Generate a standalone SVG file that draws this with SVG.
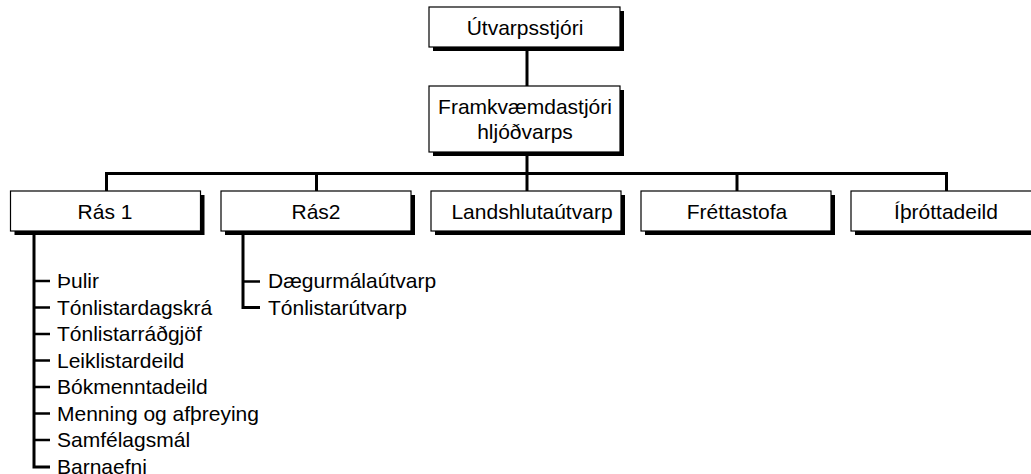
<svg xmlns="http://www.w3.org/2000/svg" width="1031" height="474" viewBox="0 0 1031 474">
<style>
  .box { fill: #fff; stroke: #000; stroke-width: 1.2; }
  .shadow { fill: #000; }
  .t { font-family: "Liberation Sans", Arial, sans-serif; font-size: 21px; fill: #000; }
  .c { text-anchor: middle; }
  .line { stroke: #000; stroke-width: 3; fill: none; stroke-linecap: butt; stroke-linejoin: miter; }
  .tick { stroke: #000; stroke-width: 2.5; fill: none; }
</style>
<rect width="1031" height="474" fill="#fff"/>
<g id="connectors">
  <line class="line" x1="527" y1="47" x2="527" y2="86"/>
  <line class="line" x1="527" y1="152" x2="527" y2="191"/>
  <polyline class="line" points="106.5,191 106.5,173.5 946.5,173.5 946.5,191"/>
  <line class="line" x1="316.5" y1="173.5" x2="316.5" y2="191"/>
  <line class="line" x1="737" y1="173.5" x2="737" y2="191"/>
  <polyline class="line" points="34,231 34,467 50,467"/>
  <line class="tick" x1="34" y1="281" x2="50" y2="281"/>
  <line class="tick" x1="34" y1="307.5" x2="50" y2="307.5"/>
  <line class="tick" x1="34" y1="334" x2="50" y2="334"/>
  <line class="tick" x1="34" y1="360.5" x2="50" y2="360.5"/>
  <line class="tick" x1="34" y1="387" x2="50" y2="387"/>
  <line class="tick" x1="34" y1="413.5" x2="50" y2="413.5"/>
  <line class="tick" x1="34" y1="440" x2="50" y2="440"/>
  <polyline class="line" points="243,231 243,307.5 260,307.5"/>
  <line class="tick" x1="243" y1="281.5" x2="260" y2="281.5"/>
</g>
<g id="utvarpsstjori">
  <rect class="shadow" x="433" y="11" width="191" height="40"/>
  <rect class="box" x="429" y="7" width="191" height="40"/>
  <text class="t c" x="525" y="34.5">Útvarpsstjóri</text>
</g>
<g id="framkvaemdastjori">
  <rect class="shadow" x="433" y="90" width="191" height="66"/>
  <rect class="box" x="429" y="86" width="191" height="66"/>
  <text class="t c" x="525" y="113.5">Framkvæmdastjóri</text>
  <text class="t c" x="525" y="138.5">hljóðvarps</text>
</g>
<g id="ras1">
  <rect class="shadow" x="14.5" y="195" width="190" height="40"/>
  <rect class="box" x="10.5" y="191" width="190" height="40"/>
  <text class="t c" x="105" y="218.5">Rás 1</text>
</g>
<g id="ras2">
  <rect class="shadow" x="225" y="195" width="190" height="40"/>
  <rect class="box" x="221" y="191" width="190" height="40"/>
  <text class="t c" x="316" y="218.5">Rás2</text>
</g>
<g id="landshlutautvarp">
  <rect class="shadow" x="435" y="195" width="190" height="40"/>
  <rect class="box" x="431" y="191" width="190" height="40"/>
  <text class="t c" x="532" y="218.5">Landshlutaútvarp</text>
</g>
<g id="frettastofa">
  <rect class="shadow" x="645" y="195" width="190" height="40"/>
  <rect class="box" x="641" y="191" width="190" height="40"/>
  <text class="t c" x="737" y="218.5">Fréttastofa</text>
</g>
<g id="ithrottadeild">
  <rect class="shadow" x="855" y="195" width="190" height="40"/>
  <rect class="box" x="851" y="191" width="190" height="40"/>
  <text class="t c" x="946" y="218.5">Íþróttadeild</text>
</g>
<g id="ras1-children">
  <text class="t" x="57" y="288">Þulir</text>
  <text class="t" x="57" y="314.5">Tónlistardagskrá</text>
  <text class="t" x="57" y="341">Tónlistarráðgjöf</text>
  <text class="t" x="57" y="367.5">Leiklistardeild</text>
  <text class="t" x="57" y="394">Bókmenntadeild</text>
  <text class="t" x="57" y="420.5">Menning og afþreying</text>
  <text class="t" x="57" y="447">Samfélagsmál</text>
  <text class="t" x="57" y="473.5">Barnaefni</text>
</g>
<g id="ras2-children">
  <text class="t" x="268" y="288">Dægurmálaútvarp</text>
  <text class="t" x="268" y="314.5">Tónlistarútvarp</text>
</g>
</svg>
